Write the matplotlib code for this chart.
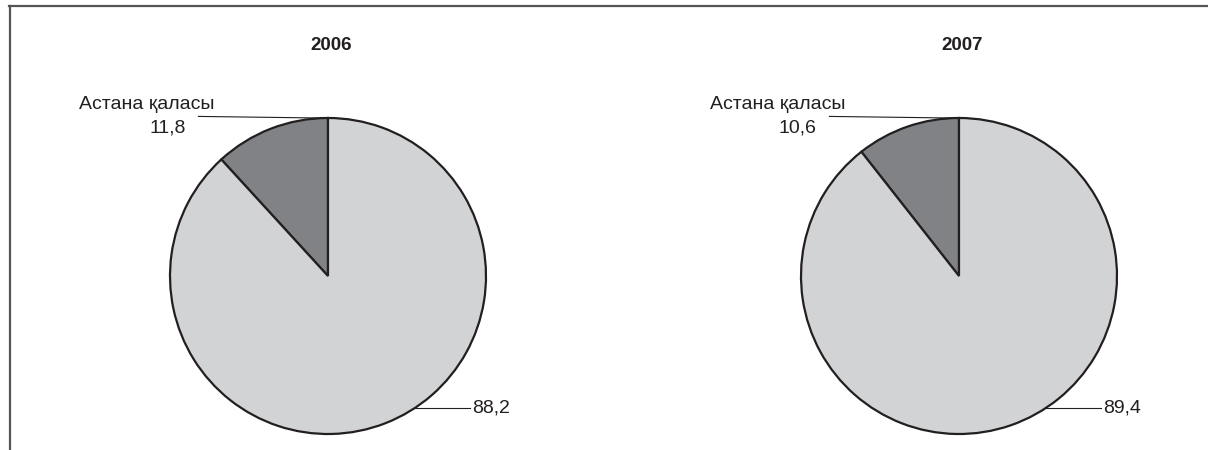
import numpy as np
import matplotlib
matplotlib.use("Agg")
import matplotlib.pyplot as plt
from matplotlib.lines import Line2D

plt.rcParams['font.family'] = ['Liberation Sans', 'DejaVu Sans']

years = ['2006', '2007']
astana_share = [11.8, 10.6]
other_share = [88.2, 89.4]
slice_label = 'Астана қаласы'
colors = ['#808285', '#d1d3d4']

W, H = 1208, 450
fig = plt.figure(figsize=(W / 100, H / 100), dpi=100)

R = 158          # pie radius in pixels
LIM = 1.3
centers = [(328, 276), (959, 276)]
ink = '#231f20'


def fmt(v):
    return f'{v:.1f}'.replace('.', ',')


for (cx, cy), year, a, o in zip(centers, years, astana_share, other_share):
    side = 2 * LIM * R
    ax = fig.add_axes([(cx - side / 2) / W, (H - cy - side / 2) / H, side / W, side / H])
    ax.pie([a, o], colors=colors, startangle=90, counterclock=True, radius=1,
           wedgeprops=dict(edgecolor=ink, linewidth=1.6))
    ax.set_xlim(-LIM, LIM)
    ax.set_ylim(-LIM, LIM)
    ax.set_aspect('equal')
    ax.axis('off')

    # small slice label with leader line
    ang = np.deg2rad(90 + 1.5)
    ex, ey = np.cos(ang), np.sin(ang)
    ax.add_line(Line2D([-0.82, ex], [1.01, ey], color=ink, lw=0.8, clip_on=False))
    ax.text(-0.72, 1.085, slice_label, ha='right', va='center', fontsize=14, color=ink)
    ax.text(-0.90, 0.935, fmt(a), ha='right', va='center', fontsize=14, color=ink)

    # large slice label
    ang = np.deg2rad(-56.5)
    ex, ey = np.cos(ang), np.sin(ang)
    ax.add_line(Line2D([ex, 0.90], [ey, ey], color=ink, lw=0.8, clip_on=False))
    ax.text(0.915, ey, fmt(o), ha='left', va='center', fontsize=14, color=ink)

    fig.text((cx + 3) / W, 1 - 45 / H, year, ha='center', va='center',
             fontsize=13.5, fontweight='bold', color=ink)

# frame lines
fig.add_artist(Line2D([9 / W, 1], [1 - 5.5 / H, 1 - 5.5 / H], color='#555555', lw=1.6,
                      transform=fig.transFigure))
fig.add_artist(Line2D([9.5 / W, 9.5 / W], [0, 1 - 5.5 / H], color='#555555', lw=1.6,
                      transform=fig.transFigure))

fig.savefig('out.png', dpi=100, facecolor='white')
